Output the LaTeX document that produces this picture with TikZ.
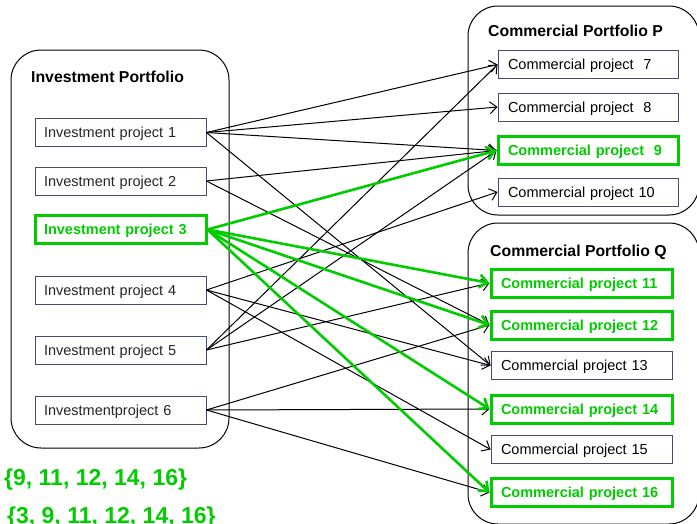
\documentclass[tikz,border=0pt]{standalone}
\usepackage{fontspec}
\setmainfont{Liberation Sans}
\usetikzlibrary{arrows.meta}
\definecolor{grn}{RGB}{0,204,0}
\definecolor{bord}{RGB}{70,74,120}
\begin{document}
\begin{tikzpicture}[x=1pt,y=-1pt,
  port/.style={draw=black, line width=1pt, rounded corners=30pt},
  basebox/.style={fill=white, minimum height=28pt, inner ysep=0pt,
    text height=10.4pt, text depth=0pt, align=left,
    font=\fontsize{14.5}{17}\selectfont},
  ibox/.style={basebox, draw=bord, line width=0.9pt, text width=153pt, inner xsep=9pt, text=black!85},
  pbox/.style={basebox, draw=bord, line width=0.9pt, text width=160pt, inner xsep=10pt, text=black},
  qbox/.style={basebox, draw=bord, line width=0.9pt, text width=161pt, inner xsep=10pt, text=black},
  hot/.style={draw=grn, line width=3pt, text=grn, font=\fontsize{14.5}{17}\selectfont\bfseries},
  ttl/.style={anchor=base west, inner sep=0pt, font=\fontsize{15.8}{19}\selectfont\bfseries},
  setlbl/.style={anchor=base west, inner sep=0pt, text=grn, font=\fontsize{23}{27}\selectfont\bfseries},
  blk/.style={draw=black, line width=1pt, -{Straight Barb[length=7pt,width=12pt]}},
  gr/.style={draw=grn, line width=2.6pt, -{Straight Barb[length=8pt,width=13pt]}}
]
\useasboundingbox (0,0) rectangle (697,523);
\clip (0,0) rectangle (697,523);

% portfolios
\draw[port] (11,50) rectangle (229,448);
\draw[port] (468,6) rectangle (699,215);
\draw[port] (468,223) rectangle (699,524);

\node[ttl] (tI) at (31,82.3) {Investment Portfolio};
\node[ttl] (tP) at (488,36) {Commercial Portfolio P};
\node[ttl] (tQ) at (490,256) {Commercial Portfolio Q};

% investment projects
\node[ibox] (i1) at (120.5,132.5) {Investment project 1};
\node[ibox] (i2) at (120.5,181) {Investment project 2};
\node[ibox,hot] (i3) at (120.5,229.5) {Investment project 3};
\node[ibox] (i4) at (120.5,290) {Investment project 4};
\node[ibox] (i5) at (120.5,350) {Investment project 5};
\node[ibox] (i6) at (120.5,410) {Investmentproject 6};

% commercial portfolio P
\node[pbox] (c7) at (588,64.5) {Commercial project~~7};
\node[pbox] (c8) at (588,107) {Commercial project~~8};
\node[pbox,hot] (c9) at (588,150.5) {Commercial project~~9};
\node[pbox] (c10) at (588,192) {Commercial project 10};

% commercial portfolio Q
\node[qbox,hot] (c11) at (581.5,283) {Commercial project 11};
\node[qbox,hot] (c12) at (581.5,325) {Commercial project 12};
\node[qbox] (c13) at (581.5,365.5) {Commercial project 13};
\node[qbox,hot] (c14) at (581.5,409) {Commercial project 14};
\node[qbox] (c15) at (581.5,449.5) {Commercial project 15};
\node[qbox,hot] (c16) at (581.5,492.5) {Commercial project 16};

% black connectors
\foreach \s/\t in {i1/c7,i1/c8,i1/c9,i1/c13,i2/c9,i2/c12,i4/c10,i4/c13,i4/c15,i5/c7,i5/c9,i5/c11,i6/c12,i6/c14,i6/c16}
  \draw[blk] (\s.east) -- (\t.west);
% green connectors
\foreach \t in {c9,c11,c12,c14,c16}
  \draw[gr] (i3.east) -- (\t.west);

% sets
\node[setlbl] (s1) at (4,485) {\{9, 11, 12, 14, 16\}};
\node[setlbl] (s2) at (7,523.5) {\{3, 9, 11, 12, 14, 16\}};
\end{tikzpicture}
\end{document}
